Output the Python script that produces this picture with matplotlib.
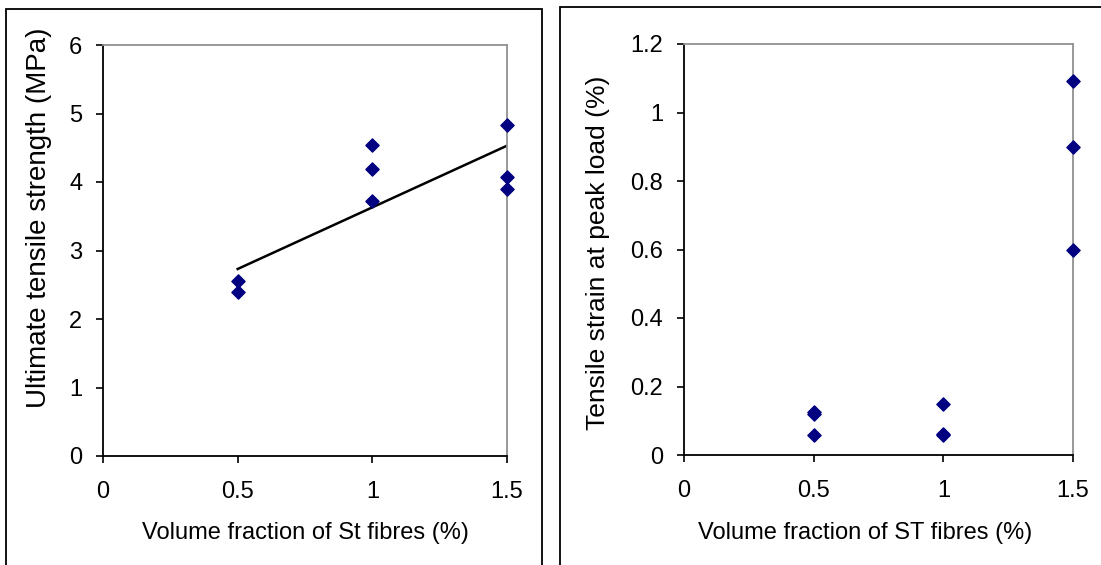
import matplotlib
matplotlib.use('Agg')
import matplotlib.pyplot as plt
from matplotlib.patches import Rectangle
import numpy as np

plt.rcParams['font.family'] = ['Liberation Sans', 'DejaVu Sans']

# data
x_st = [0.5, 0.5, 1.0, 1.0, 1.0, 1.5, 1.5, 1.5]
strength = [2.55, 2.39, 4.54, 4.19, 3.72, 4.83, 4.08, 3.90]

x_strain = [0.5, 0.5, 0.5, 1.0, 1.0, 1.0, 1.5, 1.5, 1.5]
strain = [0.125, 0.12, 0.058, 0.149, 0.058, 0.06, 1.092, 0.90, 0.598]

x_ticks = [0, 0.5, 1, 1.5]
x_ticklabels = ['0', '0.5', '1', '1.5']
y1_ticks = [0, 1, 2, 3, 4, 5, 6]
y2_ticks = [0, 0.2, 0.4, 0.6, 0.8, 1.0, 1.2]
y2_ticklabels = ['0', '0.2', '0.4', '0.6', '0.8', '1', '1.2']

W, H = 1101, 565
fig = plt.figure(figsize=(W / 100, H / 100), dpi=100)

def px(x0, y0, w, h):
    # pixel box (top-left origin) -> figure fraction
    return [x0 / W, 1 - (y0 + h) / H, w / W, h / H]

# outer frames around each chart
fig.patches.append(Rectangle((6 / W, -0.1), 536 / W, 1.1 - 9 / H, transform=fig.transFigure,
                             fill=False, edgecolor='black', linewidth=1.3))
fig.patches.append(Rectangle((560 / W, -0.1), 600 / W, 1.1 - 7 / H, transform=fig.transFigure,
                             fill=False, edgecolor='black', linewidth=1.3))

ax1 = fig.add_axes(px(103, 45, 404, 411))
ax2 = fig.add_axes(px(684, 44, 389, 411))

def style(ax):
    for s in ['left', 'bottom']:
        ax.spines[s].set_color('black')
        ax.spines[s].set_linewidth(1.3)
    for s in ['top', 'right']:
        ax.spines[s].set_color('#909090')
        ax.spines[s].set_linewidth(1.3)
    ax.tick_params(direction='out', length=5, width=1.2, labelsize=17)
    ax.tick_params(axis='x', pad=13)
    ax.tick_params(axis='y', pad=10)
    ax.tick_params(top=False, right=False)
    ax.set_xlim(0, 1.5)
    ax.set_xticks(x_ticks)
    ax.set_xticklabels(x_ticklabels)

style(ax1)
ax1.set_ylim(0, 6)
ax1.set_yticks(y1_ticks)
ax1.scatter(x_st, strength, marker='D', s=45, color='#000080', clip_on=False, zorder=3)
# linear trend through the group means
gx = np.unique(x_st)
gm = [np.mean([v for xx, v in zip(x_st, strength) if xx == g]) for g in gx]
k, b = np.polyfit(gx, gm, 1)
xl = np.array([0.5, 1.5])
ax1.plot(xl, k * xl + b, color='black', linewidth=1.8, zorder=2)

style(ax2)
ax2.set_ylim(0, 1.2)
ax2.set_yticks(y2_ticks)
ax2.set_yticklabels(y2_ticklabels)
ax2.scatter(x_strain, strain, marker='D', s=45, color='#000080', clip_on=False, zorder=3)

fig.text(305 / W, 1 - 533 / H, 'Volume fraction of St fibres (%)', ha='center', va='center', fontsize=17)
fig.text(865 / W, 1 - 533 / H, 'Volume fraction of ST fibres (%)', ha='center', va='center', fontsize=17)
fig.text(39 / W, 1 - 218 / H, 'Ultimate tensile strength (MPa)', ha='center', va='center',
         rotation=90, fontsize=20)
fig.text(598 / W, 1 - 253 / H, 'Tensile strain at peak load (%)', ha='center', va='center',
         rotation=90, fontsize=19)

fig.savefig('out.png', dpi=100)
